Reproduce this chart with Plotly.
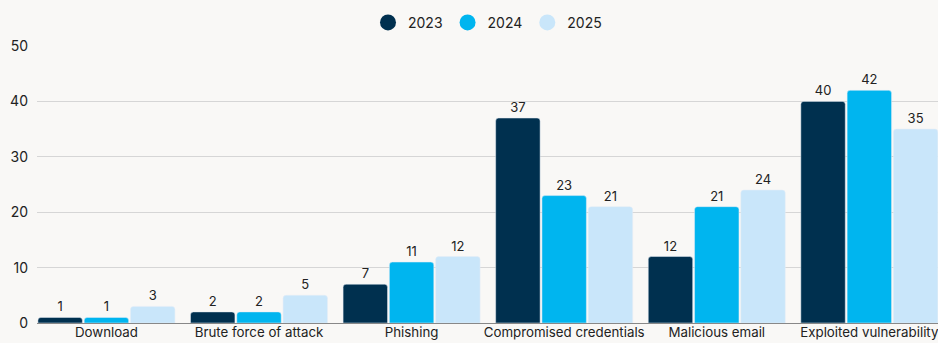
import plotly.graph_objects as go

categories = ["Download", "Brute force of attack", "Phishing", "Compromised credentials", "Malicious email", "Exploited vulnerability"]
years = ["2023", "2024", "2025"]
values_2023 = [1, 2, 7, 37, 12, 40]
values_2024 = [1, 2, 11, 23, 21, 42]
values_2025 = [3, 5, 12, 21, 24, 35]
colors = ["#00304f", "#00b5ef", "#c9e6fa"]
y_ticks = [0, 10, 20, 30, 40, 50]

series = [values_2023, values_2024, values_2025]
FONT = "Inter, Roboto, sans-serif"

fig = go.Figure()
for name, vals, col in zip(years, series, colors):
    fig.add_trace(go.Bar(
        x=list(range(len(categories))), y=vals, name=name, marker_color=col,
        text=[str(v) for v in vals], textposition="outside", cliponaxis=False,
        textfont=dict(size=13, color="#222222", family=FONT),
        showlegend=False,
    ))
for name, col in zip(years, colors):
    fig.add_trace(go.Scatter(
        x=[None], y=[None], mode="markers", name=name,
        marker=dict(symbol="circle", size=16, color=col),
    ))

fig.update_layout(
    width=938, height=343,
    margin=dict(l=37, r=0, t=46, b=20, autoexpand=False),
    paper_bgcolor="#f9f8f6", plot_bgcolor="#f9f8f6",
    barmode="group", bargap=0.09, bargroupgap=0.04, barcornerradius=3,
    font=dict(family=FONT, size=14, color="#222222"),
    legend=dict(orientation="h", x=0.5, xanchor="center", y=0.98, yanchor="top",
                yref="container", font=dict(size=14, color="#222222", family=FONT),
                itemwidth=30, tracegroupgap=0, bgcolor="rgba(0,0,0,0)"),
    uniformtext=dict(minsize=12, mode="show"),
)
fig.update_xaxes(
    tickmode="array", tickvals=list(range(len(categories))), ticktext=categories,
    range=[-0.455, 5.45], showgrid=False, zeroline=False, showline=False,
    ticks="", tickfont=dict(size=13.3, color="#222222", family=FONT),
    ticklabeloverflow="allow", automargin=False,
)
fig.update_yaxes(
    range=[0, 50], tickvals=y_ticks, showgrid=True, gridcolor="#d6d6d6", gridwidth=1,
    zeroline=True, zerolinecolor="#888888", zerolinewidth=1, automargin=False,
    ticks="", tickfont=dict(size=14, color="#222222", family=FONT), ticklabelstandoff=8,
)
fig.write_html("out.html")
